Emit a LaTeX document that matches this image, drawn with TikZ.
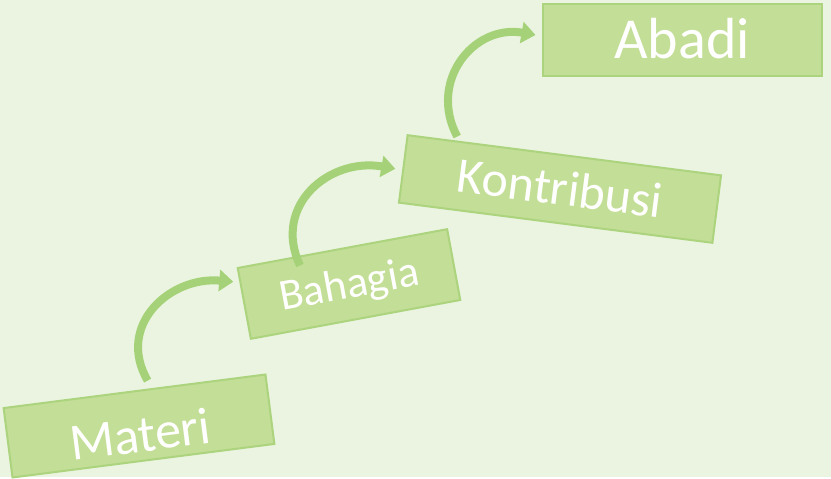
\documentclass[tikz,border=0pt]{standalone}
\usepackage{fontspec}
\setmainfont{Carlito}
\usetikzlibrary{arrows.meta, calc}
\definecolor{bgpale}{RGB}{235,244,224}
\definecolor{stagefill}{RGB}{195,222,150}
\definecolor{stageedge}{RGB}{172,211,125}
\definecolor{arrowgreen}{RGB}{165,210,120}

\begin{document}
\begin{tikzpicture}[x=1pt, y=1pt,
  stage/.style={draw=stageedge, line width=2pt, fill=stagefill, text=white, inner sep=0pt, text depth=0pt},
  curvearrow/.style={-{Triangle[width=21pt,length=14pt]}, line width=8pt, arrowgreen, looseness=1.25}]
  % background
  \fill[bgpale] (0,0) rectangle (831,477);

  % steps
  \node[stage, minimum width=264pt, minimum height=70pt, rotate=7.3, font=\fontsize{52pt}{52pt}\selectfont, text height=52pt] (materi) at (139,51) {Materi};
  \node[stage, minimum width=213pt, minimum height=72pt, rotate=10.5, font=\fontsize{44pt}{44pt}\selectfont, text height=28pt] (bahagia) at (349,193) {Bahagia};
  \node[stage, minimum width=316pt, minimum height=68pt, rotate=-7.3, font=\fontsize{50pt}{50pt}\selectfont, text height=32pt] (kontribusi) at (560,288) {Kontribusi};
  \node[stage, minimum width=279pt, minimum height=72pt, font=\fontsize{58pt}{58pt}\selectfont, text height=37pt] (abadi) at (682,437) {Abadi};

  % arrows
  \draw[curvearrow] ($(materi.north west)!0.55!(materi.north east)+(0,8)$) to[out=120, in=175] ($(bahagia.north west)!0.2!(bahagia.south west)+(-6,0)$);
  \draw[curvearrow] ($(bahagia.north west)!0.3!(bahagia.north east)+(0,-10)$) to[out=115, in=170] ($(kontribusi.west)+(-7,0)$);
  \draw[curvearrow] ($(kontribusi.north west)!0.16!(kontribusi.north east)+(0,4)$) to[out=118, in=170] ($(abadi.west)+(-6,5)$);
\end{tikzpicture}
\end{document}
